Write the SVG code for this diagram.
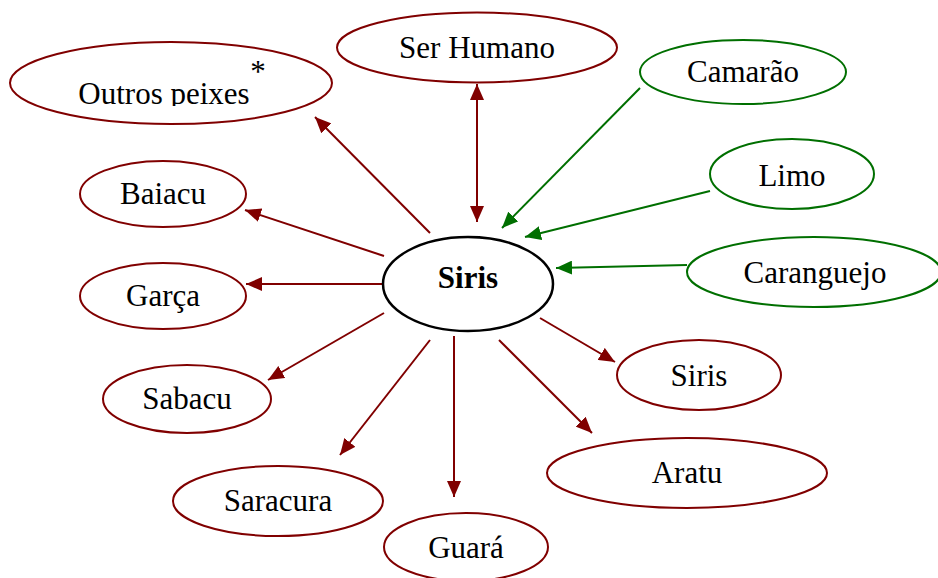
<svg xmlns="http://www.w3.org/2000/svg" width="938" height="578" viewBox="0 0 938 578">
  <style>
    .red ellipse { fill: #ffffff; stroke: #800000; stroke-width: 2; }
    .green ellipse { fill: #ffffff; stroke: #006f00; stroke-width: 2; }
    .hub ellipse { fill: #ffffff; stroke: #000000; stroke-width: 2.5; }
    text { font-size: 31px; fill: #000000; text-anchor: middle; }
    .hub text { font-weight: bold; }
    .er { stroke: #800000; stroke-width: 2; fill: none; }
    .eg { stroke: #006f00; stroke-width: 2; fill: none; }
  </style>
  <defs>
    <marker id="headRed" markerUnits="userSpaceOnUse" markerWidth="18" markerHeight="14" refX="16" refY="7" orient="auto-start-reverse">
      <path d="M0,0 L16,7 L0,14 Z" fill="#800000"/>
    </marker>
    <marker id="headGreen" markerUnits="userSpaceOnUse" markerWidth="18" markerHeight="14" refX="16" refY="7" orient="auto">
      <path d="M0,0 L16,7 L0,14 Z" fill="#006f00"/>
    </marker>
    <clipPath id="cutLine">
      <rect x="0" y="0" width="340" height="106"/>
    </clipPath>
  </defs>

  <rect width="938" height="578" fill="#ffffff"/>

  <g id="connectors">
    <line class="er" x1="477" y1="84" x2="477" y2="222" marker-start="url(#headRed)" marker-end="url(#headRed)"/>
    <line class="er" x1="430" y1="233" x2="315" y2="117" marker-end="url(#headRed)"/>
    <line class="er" x1="384" y1="256" x2="245" y2="210" marker-end="url(#headRed)"/>
    <line class="er" x1="383" y1="284" x2="246" y2="284" marker-end="url(#headRed)"/>
    <line class="er" x1="384" y1="313" x2="268" y2="380" marker-end="url(#headRed)"/>
    <line class="er" x1="430" y1="340" x2="340" y2="455" marker-end="url(#headRed)"/>
    <line class="er" x1="454" y1="336" x2="454" y2="497" marker-end="url(#headRed)"/>
    <line class="er" x1="499" y1="340" x2="592" y2="433" marker-end="url(#headRed)"/>
    <line class="er" x1="540" y1="318" x2="615" y2="362" marker-end="url(#headRed)"/>
    <line class="eg" x1="640" y1="88" x2="502" y2="228" marker-end="url(#headGreen)"/>
    <line class="eg" x1="710" y1="191" x2="525" y2="237" marker-end="url(#headGreen)"/>
    <line class="eg" x1="687" y1="265" x2="556" y2="268" marker-end="url(#headGreen)"/>
  </g>

  <g id="nodes" font-family="Liberation Serif, serif">
    <g id="siris-hub" class="hub">
      <ellipse cx="468" cy="284" rx="85" ry="47"/>
      <text x="468" y="288">Siris</text>
    </g>

    <g id="outros-peixes" class="red">
      <ellipse cx="171" cy="83" rx="161" ry="41"/>
      <text x="164" y="104" clip-path="url(#cutLine)">Outros peixes</text>
      <text x="258" y="82" font-size="20">*</text>
    </g>
    <g id="ser-humano" class="red">
      <ellipse cx="477" cy="47.5" rx="140" ry="35"/>
      <text x="477" y="58">Ser Humano</text>
    </g>
    <g id="baiacu" class="red">
      <ellipse cx="163" cy="194" rx="83" ry="33"/>
      <text x="163" y="204">Baiacu</text>
    </g>
    <g id="garca" class="red">
      <ellipse cx="163" cy="296" rx="83" ry="33"/>
      <text x="163" y="306">Garça</text>
    </g>
    <g id="sabacu" class="red">
      <ellipse cx="187" cy="399" rx="84" ry="34"/>
      <text x="187" y="409">Sabacu</text>
    </g>
    <g id="saracura" class="red">
      <ellipse cx="278" cy="501" rx="105" ry="35"/>
      <text x="278" y="511">Saracura</text>
    </g>
    <g id="guara" class="red">
      <ellipse cx="466" cy="547" rx="82" ry="34"/>
      <text x="466" y="558">Guará</text>
    </g>
    <g id="aratu" class="red">
      <ellipse cx="687" cy="473" rx="140" ry="35"/>
      <text x="687" y="483">Aratu</text>
    </g>
    <g id="siris-prey" class="red">
      <ellipse cx="699" cy="375" rx="82" ry="35"/>
      <text x="699" y="386">Siris</text>
    </g>

    <g id="camarao" class="green">
      <ellipse cx="743" cy="72" rx="103" ry="32"/>
      <text x="743" y="82">Camarão</text>
    </g>
    <g id="limo" class="green">
      <ellipse cx="792" cy="174" rx="82" ry="35"/>
      <text x="792" y="186">Limo</text>
    </g>
    <g id="caranguejo" class="green">
      <ellipse cx="814" cy="272" rx="127" ry="35"/>
      <text x="815" y="283">Caranguejo</text>
    </g>
  </g>
</svg>
